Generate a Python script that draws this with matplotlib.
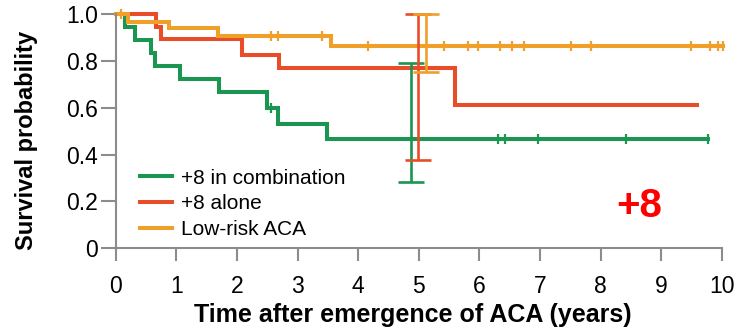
import numpy as np
import matplotlib
matplotlib.use("Agg")
import matplotlib.pyplot as plt

plt.rcParams["font.family"] = ["Liberation Sans", "DejaVu Sans"]

# Kaplan-Meier steps (time in years, survival)
combo_t = [0, 0.15, 0.31, 0.59, 0.64, 1.06, 1.70, 2.49, 2.67, 3.48, 9.77]
combo_s = [1.0, 0.944, 0.889, 0.833, 0.778, 0.722, 0.667, 0.600, 0.529, 0.465, 0.465]
combo_cens = [2.57, 6.31, 6.42, 6.96, 8.42, 9.77]

alone_t = [0, 0.66, 0.74, 2.08, 2.69, 5.60, 9.59]
alone_s = [1.0, 0.944, 0.892, 0.825, 0.771, 0.612, 0.612]
alone_cens = []

low_t = [0, 0.21, 0.88, 1.68, 3.55, 10.02]
low_s = [1.0, 0.967, 0.939, 0.906, 0.865, 0.865]
low_cens = [0.09, 2.57, 2.67, 3.41, 4.17, 5.42, 5.81, 5.98, 6.34, 6.54, 6.73,
            7.51, 7.84, 9.50, 9.80, 9.93, 10.02]

# 95% CI bars (time, lower, upper)
ci_time = [4.87, 4.99, 5.12]
ci_low = [0.282, 0.376, 0.754]
ci_high = [0.790, 1.0, 1.0]

labels = ["+8 in combination", "+8 alone", "Low-risk ACA"]
colors = ["#1B9650", "#E84C28", "#F0A028"]

fig = plt.figure(figsize=(7.38, 3.34), dpi=100)
ax = fig.add_axes([0.1568, 0.2566, 0.8212, 0.7015])

groups = [(combo_t, combo_s, combo_cens), (alone_t, alone_s, alone_cens),
          (low_t, low_s, low_cens)]
for (t, s, cens), lab, c in zip(groups, labels, colors):
    ax.plot(t, s, drawstyle="steps-post", color=c, lw=2.9, label=lab,
            clip_on=False, solid_joinstyle="miter")
    if cens:
        idx = np.searchsorted(t, cens, side="right") - 1
        ax.plot(cens, np.array(s)[idx], ls="none", marker="|", ms=7.5,
                mew=1.6, color=c, clip_on=False)

for x, lo, hi, c in zip(ci_time, ci_low, ci_high, colors):
    ax.errorbar([x], [lo], yerr=[[0], [hi - lo]], fmt="none", ecolor=c,
                elinewidth=1.9, capsize=9.4, capthick=1.9, clip_on=False)

ax.set_xlim(0, 10)
ax.set_ylim(0, 1)
ax.set_xticks(range(0, 11))
ax.set_yticks([0, 0.2, 0.4, 0.6, 0.8, 1.0])
ax.set_yticklabels(["0", "0.2", "0.4", "0.6", "0.8", "1.0"])

for side in ["top", "right"]:
    ax.spines[side].set_visible(False)
for side in ["left", "bottom"]:
    ax.spines[side].set_color("#8C8C8C")
    ax.spines[side].set_linewidth(1.5)

ax.tick_params(axis="x", length=9.5, width=1.5, color="#8C8C8C",
               labelsize=16.5, pad=10)
ax.tick_params(axis="y", length=11, width=1.5, color="#8C8C8C",
               labelsize=16.5, pad=2)

ax.set_xlabel("Time after emergence of ACA (years)", fontsize=18,
              fontweight="bold")
ax.set_ylabel("Survival probability", fontsize=17, fontweight="bold")
ax.xaxis.set_label_coords(0.49, -0.235)
ax.yaxis.set_label_coords(-0.128, 0.462)

ax.text(8.64, 0.18, "+8", color="#FF0000", fontsize=29, fontweight="bold",
        ha="center", va="center")

ax.legend(loc="upper left", bbox_to_anchor=(0.04, 0.34), frameon=False,
          fontsize=15, handlelength=1.55, handletextpad=0.4,
          labelspacing=0.32, borderpad=0, borderaxespad=0)

fig.savefig("out.png", dpi=100)
